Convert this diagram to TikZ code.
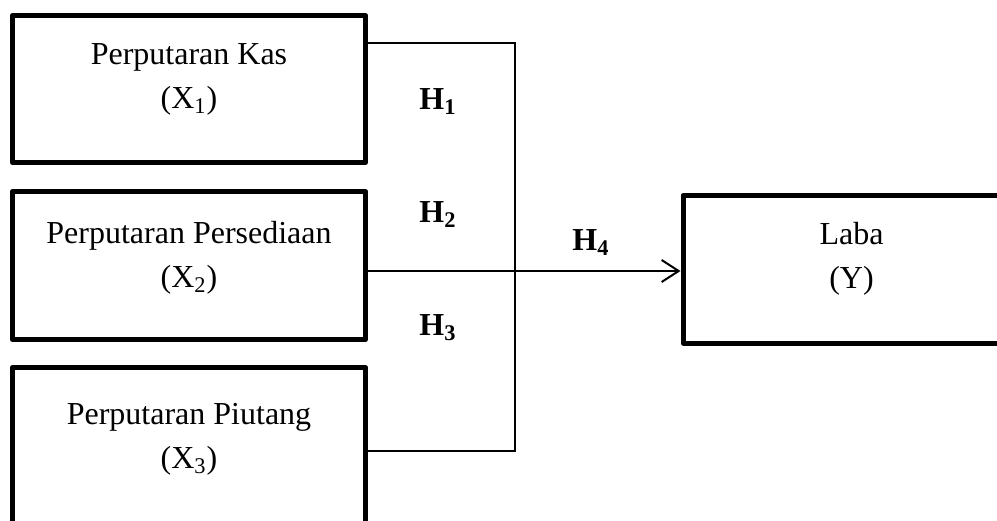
\documentclass[tikz,border=0pt]{standalone}
\usepackage{fontspec}
\setmainfont{Liberation Serif}
\usetikzlibrary{arrows.meta,positioning}
\tikzset{
  kotak/.style={draw,line width=2.5pt,line join=round,inner sep=0pt},
  teks/.style={align=center,inner sep=0pt,font=\fontsize{16}{22}\selectfont},
  hipo/.style={anchor=base,inner sep=0pt,font=\fontsize{16}{19}\selectfont\bfseries},
  garis/.style={line width=0.9pt},
  panah/.style={garis,-{Straight Barb[length=8.5pt,width=11pt,line width=1pt]}}
}
\begin{document}
\begin{tikzpicture}[x=0.5pt,y=-0.5pt]
    \useasboundingbox (0,0) rectangle (997,520);
    \clip (0,0) rectangle (997,520);

    % Variabel bebas
    \node[kotak,minimum width=176.5pt,minimum height=73.5pt] (kas) at (189,89) {};
    \node[kotak,minimum width=176.5pt,minimum height=74pt] (persediaan) at (189,265.5) {};
    \node[kotak,minimum width=176.5pt,minimum height=86pt] (piutang) at (189,453.5) {};
    % Variabel terikat
    \node[kotak,minimum width=168.5pt,minimum height=73.75pt] (laba) at (851.5,269.25) {};

    \node[teks,below=15pt of kas.north] (tkas) {Perputaran Kas\\(X\textsubscript{1})};
    \node[teks,below=16pt of persediaan.north] (tpersediaan) {Perputaran Persediaan\\(X\textsubscript{2})};
    \node[teks,below=19pt of piutang.north] (tpiutang) {Perputaran Piutang\\(X\textsubscript{3})};
    \node[teks,below=14.5pt of laba.north] (tlaba) {Laba\\(Y)};

    \coordinate (s1) at (515,43);
    \coordinate (s2) at (515,271);
    \coordinate (s3) at (515,451);

    \draw[garis] (kas.east |- s1) -- (s1) -- (s3) -- (piutang.east |- s3);
    \draw[garis] (persediaan.east |- s2) -- (s2);
    \draw[panah] (s2) -- (laba.west |- s2);

    \node[hipo] (h1) at (438,109) {H\textsubscript{1}};
    \node[hipo] (h2) at (438,222) {H\textsubscript{2}};
    \node[hipo] (h3) at (438,335) {H\textsubscript{3}};
    \node[hipo] (h4) at (591,250) {H\textsubscript{4}};
\end{tikzpicture}
\end{document}
